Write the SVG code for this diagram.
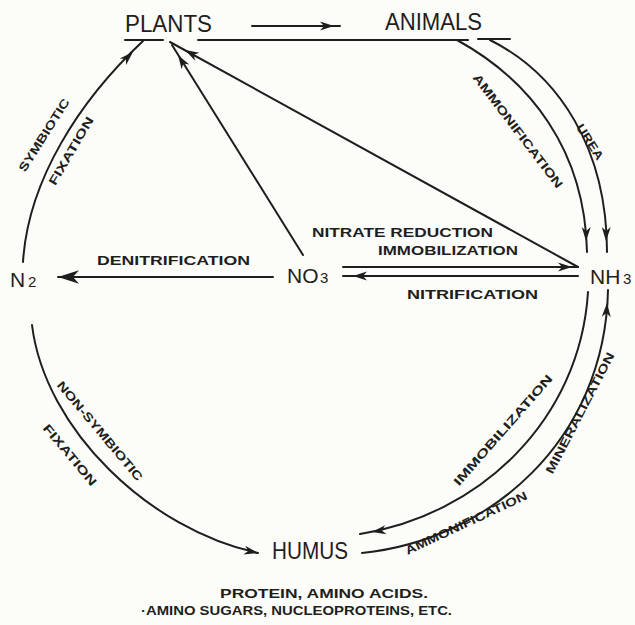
<svg xmlns="http://www.w3.org/2000/svg" width="635" height="625" viewBox="0 0 635 625">
<defs>
<style>
.bg{fill:#fcfcf8}
.ln{fill:none;stroke:#1e1e1e;stroke-width:2;stroke-linecap:round}
.big{font-family:"Liberation Sans","DejaVu Sans",sans-serif;font-size:24px;fill:#1e1e1e}
.mid{font-family:"Liberation Sans","DejaVu Sans",sans-serif;font-size:21px;fill:#1e1e1e}
.sub{font-family:"Liberation Sans","DejaVu Sans",sans-serif;font-size:15px;fill:#1e1e1e}
.lab{font-family:"Liberation Sans","DejaVu Sans",sans-serif;font-size:13px;font-weight:bold;fill:#1e1e1e}
.rl{font-family:"Liberation Sans","DejaVu Sans",sans-serif;font-size:12px;font-weight:bold;fill:#1e1e1e}
</style>
<path id="ah" d="M0 0 L-14 -4.5 L-10 0 L-14 4.5 Z" fill="#1e1e1e"/>
</defs>
<rect class="bg" x="0" y="0" width="635" height="625"/>

<g id="connectors">
  <path class="ln" d="M125 40 L163 40"/>
  <path class="ln" d="M198 40 L468 40"/>
  <path class="ln" d="M478 39 L510 39"/>
  <path class="ln" d="M252 26 L340 26"/>
  <use href="#ah" transform="translate(334 26)"/>
  <path class="ln" d="M23 262 C28 180 80 100 143 41"/>
  <use href="#ah" transform="translate(133 52) rotate(-44)"/>
  <path class="ln" d="M303 255 L172 45"/>
  <use href="#ah" transform="translate(178 55) rotate(-122)"/>
  <path class="ln" d="M578 267 L170 42"/>
  <use href="#ah" transform="translate(185 50) rotate(-151)"/>
  <path class="ln" d="M457 40 C530 80 585 150 587 252"/>
  <use href="#ah" transform="translate(586 241) rotate(91)"/>
  <path class="ln" d="M490 40 C560 75 607 150 607 252"/>
  <use href="#ah" transform="translate(606 241) rotate(91)"/>
  <path class="ln" d="M343 267 L578 267"/>
  <use href="#ah" transform="translate(572 267)"/>
  <path class="ln" d="M343 276 L578 276"/>
  <use href="#ah" transform="translate(353 276) rotate(180)"/>
  <path class="ln" d="M273 277 L58 277"/>
  <use href="#ah" transform="translate(58 277) rotate(180) scale(1.5)"/>
  <path class="ln" d="M32 325 C45 430 150 530 258 553"/>
  <use href="#ah" transform="translate(258 553) rotate(12)"/>
  <path class="ln" d="M588 292 C580 420 480 515 360 534"/>
  <use href="#ah" transform="translate(372 532) rotate(171)"/>
  <path class="ln" d="M362 553 C490 540 605 440 608 290"/>
  <use href="#ah" transform="translate(607 303) rotate(-87)"/>
</g>

<g id="plants"><text class="big" x="125" y="32" textLength="87" lengthAdjust="spacingAndGlyphs">PLANTS</text></g>
<g id="animals"><text class="big" x="385" y="30" textLength="97" lengthAdjust="spacingAndGlyphs">ANIMALS</text></g>
<g id="n2">
  <text class="mid" x="10" y="287">N</text>
  <text class="sub" x="28" y="287" font-size="16">2</text>
</g>
<g id="no3">
  <text class="mid" x="287" y="283">NO</text>
  <text class="sub" x="320" y="283">3</text>
</g>
<g id="nh3">
  <text class="mid" x="590" y="284">NH</text>
  <text class="sub" x="623" y="284">3</text>
</g>
<g id="humus">
  <text class="big" x="272" y="559" textLength="76" lengthAdjust="spacingAndGlyphs">HUMUS</text>
  <text class="lab" x="220" y="598" textLength="208" lengthAdjust="spacingAndGlyphs">PROTEIN, AMINO ACIDS.</text>
  <text class="lab" x="141" y="615" textLength="311" lengthAdjust="spacingAndGlyphs">·AMINO SUGARS, NUCLEOPROTEINS, ETC.</text>
</g>

<g id="labels">
  <text class="lab" x="97" y="265" textLength="153" lengthAdjust="spacingAndGlyphs">DENITRIFICATION</text>
  <text class="lab" x="312" y="237" textLength="181" lengthAdjust="spacingAndGlyphs">NITRATE REDUCTION</text>
  <text class="lab" x="378" y="255" textLength="140" lengthAdjust="spacingAndGlyphs">IMMOBILIZATION</text>
  <text class="lab" x="407" y="299" textLength="131" lengthAdjust="spacingAndGlyphs">NITRIFICATION</text>
  <text class="rl" text-anchor="middle" dy="0.35em" transform="translate(44 135) rotate(-57.7)" textLength="84" lengthAdjust="spacingAndGlyphs">SYMBIOTIC</text>
  <text class="rl" text-anchor="middle" dy="0.35em" transform="translate(71 151) rotate(-59.7)" textLength="77" lengthAdjust="spacingAndGlyphs">FIXATION</text>
  <text class="rl" text-anchor="middle" dy="0.35em" transform="translate(518 131) rotate(52.7)" textLength="140" lengthAdjust="spacingAndGlyphs">AMMONIFICATION</text>
  <text class="rl" text-anchor="middle" dy="0.35em" transform="translate(590 142) rotate(57.6)" textLength="40" lengthAdjust="spacingAndGlyphs">UREA</text>
  <text class="rl" text-anchor="middle" dy="0.35em" transform="translate(100 431) rotate(50)" textLength="126" lengthAdjust="spacingAndGlyphs">NON-SYMBIOTIC</text>
  <text class="rl" text-anchor="middle" dy="0.35em" transform="translate(70 455) rotate(50)" textLength="76" lengthAdjust="spacingAndGlyphs">FIXATION</text>
  <text class="rl" text-anchor="middle" dy="0.35em" transform="translate(503 430) rotate(-48.7)" textLength="143" lengthAdjust="spacingAndGlyphs">IMMOBILIZATION</text>
  <text class="rl" text-anchor="middle" dy="0.35em" transform="translate(580 413) rotate(-62.5)" textLength="135" lengthAdjust="spacingAndGlyphs">MINERALIZATION</text>
  <text class="rl" text-anchor="middle" dy="0.35em" transform="translate(466 523) rotate(-25)" textLength="133" lengthAdjust="spacingAndGlyphs">AMMONIFICATION</text>
</g>
</svg>
